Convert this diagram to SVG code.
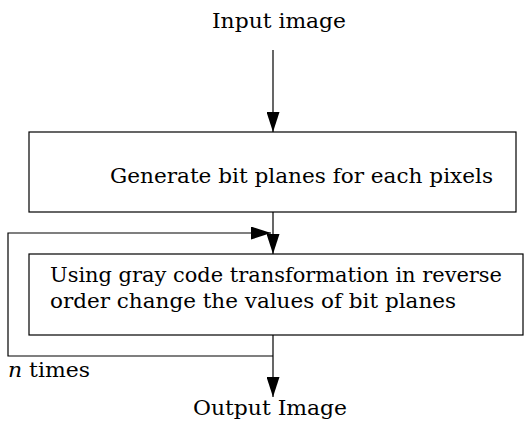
<svg xmlns="http://www.w3.org/2000/svg" width="524" height="425" viewBox="0 0 524 425">
<style>
  .box { fill: #fff; stroke: #000; stroke-width: 1.2; }
  .conn { fill: none; stroke: #000; stroke-width: 1.2; }
  .t { font-family: 'DejaVu Serif', 'Liberation Serif', serif; font-size: 20px; fill: #000; }
</style>
<defs>
  <marker id="ah" markerUnits="userSpaceOnUse" markerWidth="20" markerHeight="13" refX="20" refY="6.5" orient="auto">
    <path d="M0,0 L20,6.5 L0,13 z" fill="#000"/>
  </marker>
</defs>
<rect width="524" height="425" fill="#fff"/>
<g id="input">
  <text class="t" x="279" y="28" text-anchor="middle" textLength="134" lengthAdjust="spacingAndGlyphs">Input image</text>
</g>
<g id="generate">
  <rect class="box" x="29" y="132" width="487" height="80"/>
  <text class="t" x="110" y="183" textLength="383" lengthAdjust="spacingAndGlyphs">Generate bit planes for each pixels</text>
</g>
<g id="graycode">
  <rect class="box" x="29" y="254" width="494" height="81"/>
  <text class="t" x="50" y="282" textLength="452" lengthAdjust="spacingAndGlyphs">Using gray code transformation in reverse</text>
  <text class="t" x="50" y="308" textLength="406" lengthAdjust="spacingAndGlyphs">order change the values of bit planes</text>
</g>
<g id="output">
  <text class="t" x="270" y="415" text-anchor="middle" textLength="154" lengthAdjust="spacingAndGlyphs">Output Image</text>
</g>
<g id="loop-label">
  <text class="t" x="8" y="377" textLength="82" lengthAdjust="spacingAndGlyphs"><tspan font-style="italic">n</tspan> times</text>
</g>
<g id="connectors">
  <line class="conn" x1="273" y1="50" x2="273" y2="132" marker-end="url(#ah)"/>
  <line class="conn" x1="273" y1="212" x2="273" y2="254" marker-end="url(#ah)"/>
  <path class="conn" d="M273,356 L8,356 L8,233 L271,233" marker-end="url(#ah)"/>
  <line class="conn" x1="273" y1="335" x2="273" y2="397" marker-end="url(#ah)"/>
</g>
</svg>
